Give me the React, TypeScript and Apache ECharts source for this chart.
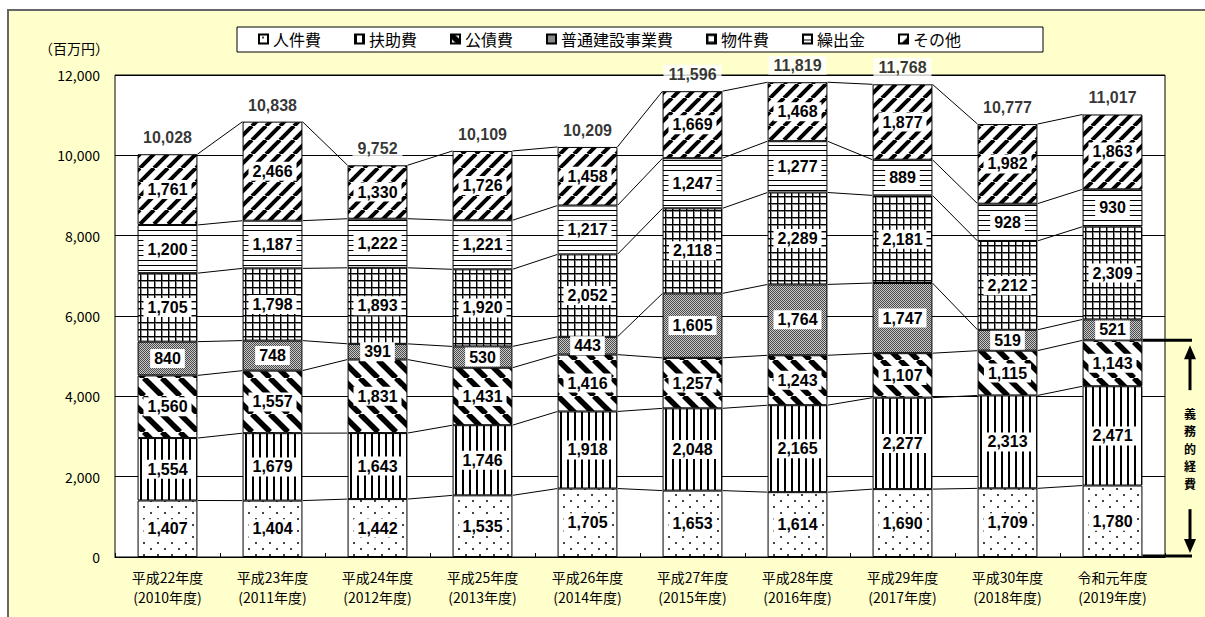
import React, { useEffect, useRef } from 'react';
import * as echarts from 'echarts';

const categories = [
  '平成22年度\n(2010年度)',
  '平成23年度\n(2011年度)',
  '平成24年度\n(2012年度)',
  '平成25年度\n(2013年度)',
  '平成26年度\n(2014年度)',
  '平成27年度\n(2015年度)',
  '平成28年度\n(2016年度)',
  '平成29年度\n(2017年度)',
  '平成30年度\n(2018年度)',
  '令和元年度\n(2019年度)',
];

const seriesNames = ['人件費', '扶助費', '公債費', '普通建設事業費', '物件費', '繰出金', 'その他'];

const personnel = [1407, 1404, 1442, 1535, 1705, 1653, 1614, 1690, 1709, 1780];
const assistance = [1554, 1679, 1643, 1746, 1918, 2048, 2165, 2277, 2313, 2471];
const debt = [1560, 1557, 1831, 1431, 1416, 1257, 1243, 1107, 1115, 1143];
const construction = [840, 748, 391, 530, 443, 1605, 1764, 1747, 519, 521];
const materials = [1705, 1798, 1893, 1920, 2052, 2118, 2289, 2181, 2212, 2309];
const transfers = [1200, 1187, 1222, 1221, 1217, 1247, 1277, 889, 928, 930];
const others = [1761, 2466, 1330, 1726, 1458, 1669, 1468, 1877, 1982, 1863];
const totals = [10028, 10838, 9752, 10109, 10209, 11596, 11819, 11768, 10777, 11017];

const yTicks = [0, 2000, 4000, 6000, 8000, 10000, 12000];

const annotationChars = ['義', '務', '的', '経', '費'];

const seriesValues = [personnel, assistance, debt, construction, materials, transfers, others];

const fmt = (v: number) => v.toLocaleString('en-US');

const BAR_RATIO = 0.57;

function makePattern(kind: string) {
  const c = document.createElement('canvas');
  let w = 10;
  let h = 10;
  if (kind === 'dots') { w = 14; h = 12; }
  if (kind === 'vlines') { w = 7; h = 4; }
  if (kind === 'back') { w = 18; h = 18; }
  if (kind === 'fwd') { w = 14; h = 14; }
  if (kind === 'stipple') { w = 2; h = 2; }
  if (kind === 'grid') { w = 7; h = 7; }
  if (kind === 'hlines') { w = 4; h = 5; }
  c.width = w;
  c.height = h;
  const ctx = c.getContext('2d')!;
  ctx.fillStyle = '#ffffff';
  ctx.fillRect(0, 0, w, h);
  ctx.fillStyle = '#000000';
  ctx.strokeStyle = '#000000';
  if (kind === 'dots') {
    ctx.fillStyle = '#444';
    ctx.fillRect(3, 2, 2, 2);
    ctx.fillRect(10, 8, 2, 2);
  } else if (kind === 'vlines') {
    ctx.fillRect(0, 0, 2, h);
  } else if (kind === 'back') {
    ctx.lineWidth = 5.5;
    for (const o of [-w, 0, w]) {
      ctx.beginPath();
      ctx.moveTo(o, 0);
      ctx.lineTo(o + w, h);
      ctx.stroke();
    }
  } else if (kind === 'fwd') {
    ctx.lineWidth = 4;
    for (const o of [-w, 0, w]) {
      ctx.beginPath();
      ctx.moveTo(o, h);
      ctx.lineTo(o + w, 0);
      ctx.stroke();
    }
  } else if (kind === 'stipple') {
    ctx.fillStyle = '#c8c8c8';
    ctx.fillRect(0, 0, 2, 2);
    ctx.fillStyle = '#4a4a4a';
    ctx.fillRect(0, 0, 1, 1);
    ctx.fillRect(1, 1, 1, 1);
  } else if (kind === 'grid') {
    ctx.fillStyle = '#888';
    ctx.fillRect(0, 1, w, 1);
    ctx.fillRect(1, 0, 1, h);
    ctx.fillStyle = '#000';
    ctx.fillRect(0, 0, w, 1);
    ctx.fillRect(0, 0, 1, h);
  } else if (kind === 'hlines') {
    ctx.fillRect(0, 0, w, 1);
  }
  return { image: c, repeat: 'repeat', imageWidth: w, imageHeight: h } as any;
}

const patternKinds = ['dots', 'vlines', 'back', 'stipple', 'grid', 'hlines', 'fwd'];

export default function App() {
  const ref = useRef<HTMLDivElement>(null);

  useEffect(() => {
    if (!ref.current) return;
    const chart = echarts.init(ref.current, null, { renderer: 'svg' });

    const cum: number[][] = [];
    for (let k = 0; k < seriesValues.length; k++) {
      cum.push(categories.map((_, i) => {
        let s = 0;
        for (let j = 0; j <= k; j++) s += seriesValues[j][i];
        return s;
      }));
    }

    const labelFont = "'Liberation Sans Narrow', 'Liberation Sans', 'Noto Sans CJK JP', sans-serif";
    const jpFont = "'Noto Sans CJK JP', sans-serif";

    const barSeries = seriesNames.map((name, k) => ({
      name,
      type: 'bar',
      stack: 'total',
      barWidth: BAR_RATIO * 100 + '%',
      data: seriesValues[k],
      itemStyle: {
        color: makePattern(patternKinds[k]),
        borderColor: '#000',
        borderWidth: 1,
      },
      label: {
        show: true,
        position: 'inside',
        formatter: (p: any) => fmt(p.value),
        color: '#000',
        fontFamily: labelFont,
        fontWeight: 'bold',
        fontSize: 16,
        backgroundColor: '#fff',
        padding: [2, 4, 1, 4],
      },
      emphasis: { disabled: true },
      z: 2,
    }));

    const legendBox = {
      type: 'rect',
      z: 1,
      shape: { x: 237, y: 27, width: 806, height: 25 },
      style: { fill: '#fff', stroke: '#000', lineWidth: 1 },
    };

    const option: any = {
      animation: false,
      backgroundColor: 'transparent',
      grid: {
        left: 115,
        right: 40,
        top: 75,
        bottom: 60,
        show: true,
        backgroundColor: '#fff',
        borderColor: '#000',
        borderWidth: 1,
      },
      legend: {
        data: seriesNames,
        left: 258,
        top: 31,
        padding: 0,
        itemGap: 33,
        itemWidth: 9,
        itemHeight: 9,
        icon: 'rect',
        selectedMode: false,
        textStyle: { fontSize: 16, color: '#000', fontFamily: jpFont },
        z: 10,
      },
      xAxis: {
        type: 'category',
        data: categories,
        axisLine: { show: true, lineStyle: { color: '#000', width: 1 } },
        axisTick: { show: true, inside: true, length: 4, lineStyle: { color: '#000' } },
        axisLabel: {
          color: '#000',
          fontSize: 14,
          lineHeight: 20,
          margin: 10,
          fontFamily: jpFont,
          interval: 0,
        },
      },
      yAxis: {
        type: 'value',
        min: yTicks[0],
        max: yTicks[yTicks.length - 1],
        interval: yTicks[1] - yTicks[0],
        name: '（百万円）',
        nameLocation: 'end',
        nameGap: 20,
        nameTextStyle: { color: '#000', fontSize: 14, fontFamily: jpFont, align: 'right', padding: [0, 6, 0, 0] },
        axisLine: { show: false },
        axisTick: { show: false },
        splitLine: { show: true, lineStyle: { color: '#000', width: 1 } },
        axisLabel: {
          color: '#000',
          fontSize: 14,
          margin: 15,
          fontFamily: jpFont,
          formatter: (v: number) => fmt(v),
        },
      },
      series: [
        ...barSeries,
        {
          name: 'lines',
          type: 'custom',
          data: categories.slice(0, categories.length - 1).map((_, i) => [i, 0]),
          encode: { x: 0, y: 1 },
          silent: true,
          z: 1,
          renderItem: (params: any, api: any) => {
            const i = params.dataIndex;
            const band = api.size([1, 0])[0];
            const hw = (band * BAR_RATIO) / 2;
            const children: any[] = [];
            for (let k = 0; k < cum.length; k++) {
              const a = api.coord([i, cum[k][i]]);
              const b = api.coord([i + 1, cum[k][i + 1]]);
              children.push({
                type: 'line',
                shape: { x1: a[0] + hw, y1: a[1], x2: b[0] - hw, y2: b[1] },
                style: { stroke: '#000', lineWidth: 1 },
              });
            }
            return { type: 'group', children };
          },
        },
        {
          name: 'totals',
          type: 'scatter',
          data: cum[cum.length - 1],
          symbol: 'rect',
          symbolSize: 1,
          itemStyle: { color: 'rgba(0,0,0,0)' },
          silent: true,
          z: 5,
          label: {
            show: true,
            position: 'top',
            distance: 7,
            formatter: (p: any) => fmt(totals[p.dataIndex]),
            color: '#000',
            fontFamily: labelFont,
            fontWeight: 'bold',
            fontSize: 16,
            backgroundColor: '#fff',
            padding: [2, 5, 1, 5],
          },
        },
      ],
      graphic: [legendBox],
    };

    chart.setOption(option);

    // 義務的経費 bracket
    const last = categories.length - 1;
    const oblig = personnel[last] + assistance[last] + debt[last];
    const pBase = chart.convertToPixel({ xAxisIndex: 0, yAxisIndex: 0 }, [last, 0]) as number[];
    const pPrev = chart.convertToPixel({ xAxisIndex: 0, yAxisIndex: 0 }, [last - 1, 0]) as number[];
    const pTop = chart.convertToPixel({ xAxisIndex: 0, yAxisIndex: 0 }, [last, oblig]) as number[];
    const band = pBase[0] - pPrev[0];
    const barRight = pBase[0] + (band * BAR_RATIO) / 2;
    const xEnd = pBase[0] + band / 2 + 27;
    const ax = xEnd - 2;
    const yT = pTop[1];
    const yB = pBase[1] - 1;
    const midY = (yT + yB) / 2;
    const black = { stroke: '#000', lineWidth: 3 };
    const step = 17.5;

    const charTexts = annotationChars.map((ch, idx) => ({
      type: 'text',
      z: 20,
      x: ax,
      y: midY + (idx - (annotationChars.length - 1) / 2) * step,
      style: {
        text: ch,
        fill: '#000',
        fontSize: 12,
        fontWeight: 'bold',
        fontFamily: jpFont,
        align: 'center',
        verticalAlign: 'middle',
      },
    }));

    chart.setOption({
      graphic: [
        legendBox,
        { type: 'line', z: 20, shape: { x1: barRight, y1: yT, x2: xEnd, y2: yT }, style: black },
        { type: 'line', z: 20, shape: { x1: barRight, y1: yB, x2: xEnd, y2: yB }, style: black },
        { type: 'line', z: 20, shape: { x1: ax, y1: yT + 16, x2: ax, y2: midY - 58 }, style: black },
        {
          type: 'polygon',
          z: 20,
          shape: { points: [[ax, yT + 5], [ax - 6, yT + 19], [ax + 6, yT + 19]] },
          style: { fill: '#000' },
        },
        { type: 'line', z: 20, shape: { x1: ax, y1: midY + 61, x2: ax, y2: yB - 16 }, style: black },
        {
          type: 'polygon',
          z: 20,
          shape: { points: [[ax, yB - 3], [ax - 6, yB - 17], [ax + 6, yB - 17]] },
          style: { fill: '#000' },
        },
        ...charTexts,
      ],
    });

    return () => chart.dispose();
  }, []);

  return (
    <div style={{ position: 'absolute', left: 0, top: 0, width: 1205, height: 617, background: '#fff', overflow: 'hidden' }}>
      <div
        style={{
          position: 'absolute',
          left: 7,
          top: 9,
          width: 1198,
          height: 608,
          boxSizing: 'border-box',
          background: '#FFFFCC',
          borderLeft: '2px solid #666',
          borderTop: '2px solid #666',
        }}
      />
      <div ref={ref} style={{ position: 'absolute', left: 0, top: 0, width: 1205, height: 617 }} />
    </div>
  );
}
